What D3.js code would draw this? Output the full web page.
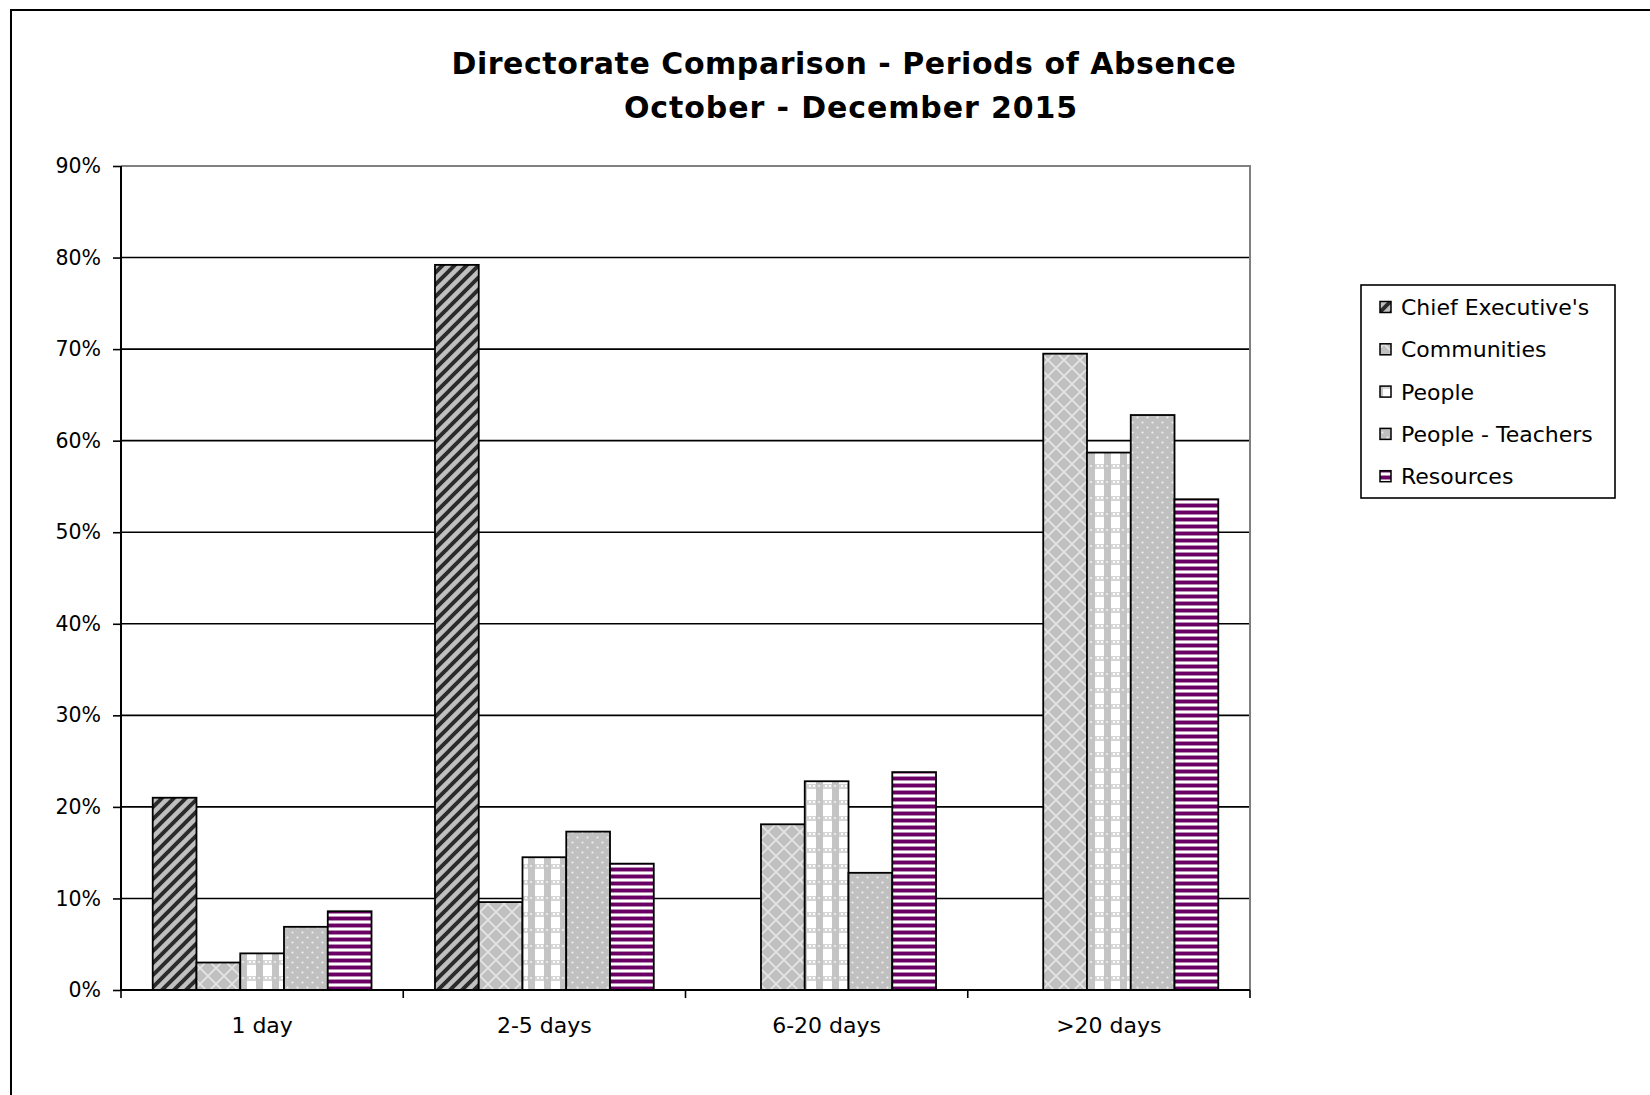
<!DOCTYPE html>
<html>
<head>
<meta charset="utf-8">
<script src="https://cdn.jsdelivr.net/npm/d3@7"></script>
<style>
  html, body { margin: 0; padding: 0; background: #fff; }
  svg { display: block; }
  text { font-family: "DejaVu Sans", sans-serif; fill: #000; }
</style>
</head>
<body>
<svg id="chart" width="1650" height="1095"></svg>
<script>
const categories = ["1 day", "2-5 days", "6-20 days", ">20 days"];
const seriesNames = ["Chief Executive's", "Communities", "People", "People - Teachers", "Resources"];
const chiefExecutives = [0.210, 0.792, 0, 0];
const communities = [0.030, 0.096, 0.181, 0.695];
const people = [0.040, 0.145, 0.228, 0.587];
const peopleTeachers = [0.069, 0.173, 0.128, 0.628];
const resources = [0.086, 0.138, 0.238, 0.536];
const yTicks = [0, 0.1, 0.2, 0.3, 0.4, 0.5, 0.6, 0.7, 0.8, 0.9];
const titleLines = ["Directorate Comparison - Periods of Absence", "October - December 2015"];

const seriesValues = [chiefExecutives, communities, people, peopleTeachers, resources];
const patternIds = ["pCE", "pCom", "pPeo", "pTea", "pRes"];

const svg = d3.select("#chart");
const defs = svg.append("defs");

// Chief Executive's: grey with dark diagonal stripes
{
  const p = defs.append("pattern").attr("id", "pCE").attr("patternUnits", "userSpaceOnUse")
    .attr("width", 12).attr("height", 12);
  p.append("rect").attr("width", 12).attr("height", 12).attr("fill", "#c0c0c0");
  p.append("path").attr("d", "M-6,6 L6,-6 M0,12 L12,0 M6,18 L18,6")
    .attr("stroke", "#2b2b2b").attr("stroke-width", 4);
}
// Communities: grey with light diamond lattice
{
  const p = defs.append("pattern").attr("id", "pCom").attr("patternUnits", "userSpaceOnUse")
    .attr("width", 16).attr("height", 16);
  p.append("rect").attr("width", 16).attr("height", 16).attr("fill", "#c0c0c0");
  p.append("path").attr("d", "M0,0 L16,16 M16,0 L0,16")
    .attr("stroke", "#e6e6e6").attr("stroke-width", 1.6);
}
// People: white with grey plaid
{
  const p = defs.append("pattern").attr("id", "pPeo").attr("patternUnits", "userSpaceOnUse")
    .attr("width", 16).attr("height", 16);
  p.append("rect").attr("width", 16).attr("height", 16).attr("fill", "#ffffff");
  p.append("rect").attr("x", 0).attr("y", 0).attr("width", 16).attr("height", 5).attr("fill", "#d6d6d6");
  p.append("rect").attr("x", 0).attr("y", 0).attr("width", 7).attr("height", 16).attr("fill", "#c4c4c4");
  p.append("rect").attr("x", 9).attr("y", 1).attr("width", 2).attr("height", 2).attr("fill", "#ffffff");
  p.append("rect").attr("x", 13).attr("y", 1).attr("width", 2).attr("height", 2).attr("fill", "#ffffff");
  p.append("rect").attr("x", 2).attr("y", 1).attr("width", 2).attr("height", 2).attr("fill", "#e8e8e8");
}
// People - Teachers: grey with small white dots
{
  const p = defs.append("pattern").attr("id", "pTea").attr("patternUnits", "userSpaceOnUse")
    .attr("width", 10).attr("height", 10);
  p.append("rect").attr("width", 10).attr("height", 10).attr("fill", "#c0c0c0");
  p.append("circle").attr("cx", 2.5).attr("cy", 2.5).attr("r", 1.1).attr("fill", "#efefef");
  p.append("circle").attr("cx", 7.5).attr("cy", 7.5).attr("r", 1.1).attr("fill", "#efefef");
}
// Resources: purple horizontal stripes
{
  const p = defs.append("pattern").attr("id", "pRes").attr("patternUnits", "userSpaceOnUse")
    .attr("width", 8).attr("height", 7);
  p.append("rect").attr("width", 8).attr("height", 7).attr("fill", "#ffffff");
  p.append("rect").attr("y", 0).attr("width", 8).attr("height", 3).attr("fill", "#6a0066");
  p.append("rect").attr("y", 3).attr("width", 8).attr("height", 1).attr("fill", "#b88ab4");
  p.append("rect").attr("y", 6).attr("width", 8).attr("height", 1).attr("fill", "#b88ab4");
}

// Outer chart border (extends past the canvas on right and bottom)
svg.append("rect").attr("x", 11).attr("y", 10).attr("width", 1660).attr("height", 1100)
  .attr("fill", "#fff").attr("stroke", "#000").attr("stroke-width", 2);

// Title
const title = svg.append("g");
const titleX = [844, 851];
titleLines.forEach((t, i) => {
  title.append("text").attr("x", titleX[i]).attr("y", 74 + i * 44)
    .attr("text-anchor", "middle").attr("font-weight", "bold")
    .attr("font-size", 30).attr("letter-spacing", i === 0 ? 0.55 : 0.9).text(t);
});

const plot = { left: 121, right: 1250, top: 166, bottom: 990 };

const x0 = d3.scaleBand().domain(categories).range([plot.left, plot.right]).paddingInner(0).paddingOuter(0);
const x1 = d3.scaleBand().domain(seriesNames).range([0, x0.bandwidth()]).paddingInner(0).paddingOuter(0.725);
const y = d3.scaleLinear().domain([0, 0.9]).range([plot.bottom, plot.top]);

// Gridlines
svg.append("g").selectAll("line").data(yTicks.filter(d => d > 0 && d < 0.9)).join("line")
  .attr("x1", plot.left).attr("x2", plot.right)
  .attr("y1", d => y(d)).attr("y2", d => y(d))
  .attr("stroke", "#000").attr("stroke-width", 1.6);
// Top & right plot border (grey)
svg.append("path")
  .attr("d", `M${plot.left},${y(0.9)} L${plot.right},${y(0.9)} L${plot.right},${plot.bottom}`)
  .attr("fill", "none").attr("stroke", "#808080").attr("stroke-width", 2);

// Bars
const barData = [];
categories.forEach((c, ci) => {
  seriesNames.forEach((s, si) => {
    const v = seriesValues[si][ci];
    if (v > 0) barData.push({ c, s, si, v });
  });
});
svg.append("g").selectAll("rect").data(barData).join("rect")
  .attr("x", d => x0(d.c) + x1(d.s))
  .attr("y", d => y(d.v))
  .attr("width", x1.bandwidth())
  .attr("height", d => y(0) - y(d.v))
  .attr("fill", d => `url(#${patternIds[d.si]})`)
  .attr("stroke", "#000").attr("stroke-width", 1.8);

// Y axis
const yAxis = svg.append("g").attr("transform", `translate(${plot.left},0)`)
  .call(d3.axisLeft(y).tickValues(yTicks).tickFormat(d3.format(".0%")).tickSize(8).tickPadding(12));
yAxis.select(".domain").attr("stroke", "#000").attr("stroke-width", 2).attr("d", `M0,${y(0.9)}V${y(0)}`);
yAxis.selectAll(".tick line").attr("stroke", "#000").attr("stroke-width", 1.6);
yAxis.selectAll(".tick text").attr("font-size", 20.5).attr("font-family", "DejaVu Sans").attr("fill", "#000");

// X axis
const xg = svg.append("g");
xg.append("line").attr("x1", plot.left).attr("x2", plot.right).attr("y1", y(0)).attr("y2", y(0))
  .attr("stroke", "#000").attr("stroke-width", 2);
const boundaries = categories.map(c => x0(c)).concat([x0(categories[categories.length - 1]) + x0.bandwidth()]);
xg.selectAll("line.tk").data(boundaries).join("line").attr("class", "tk")
  .attr("x1", d => d).attr("x2", d => d).attr("y1", y(0)).attr("y2", y(0) + 8)
  .attr("stroke", "#000").attr("stroke-width", 1.6);
xg.selectAll("text").data(categories).join("text")
  .attr("x", d => x0(d) + x0.bandwidth() / 2).attr("y", 1033)
  .attr("text-anchor", "middle").attr("font-size", 22).text(d => d);

// Legend
const legend = svg.append("g");
legend.append("rect").attr("x", 1361).attr("y", 285).attr("width", 254).attr("height", 213)
  .attr("fill", "#fff").attr("stroke", "#000").attr("stroke-width", 1.6);
seriesNames.forEach((s, i) => {
  const cy = 307 + i * 42.3;
  legend.append("rect").attr("x", 1380).attr("y", cy - 5.5).attr("width", 11).attr("height", 11)
    .attr("fill", `url(#${patternIds[i]})`).attr("stroke", "#000").attr("stroke-width", 1.5);
  legend.append("text").attr("x", 1401).attr("y", cy + 8).attr("font-size", 22).text(s);
});
</script>
</body>
</html>
